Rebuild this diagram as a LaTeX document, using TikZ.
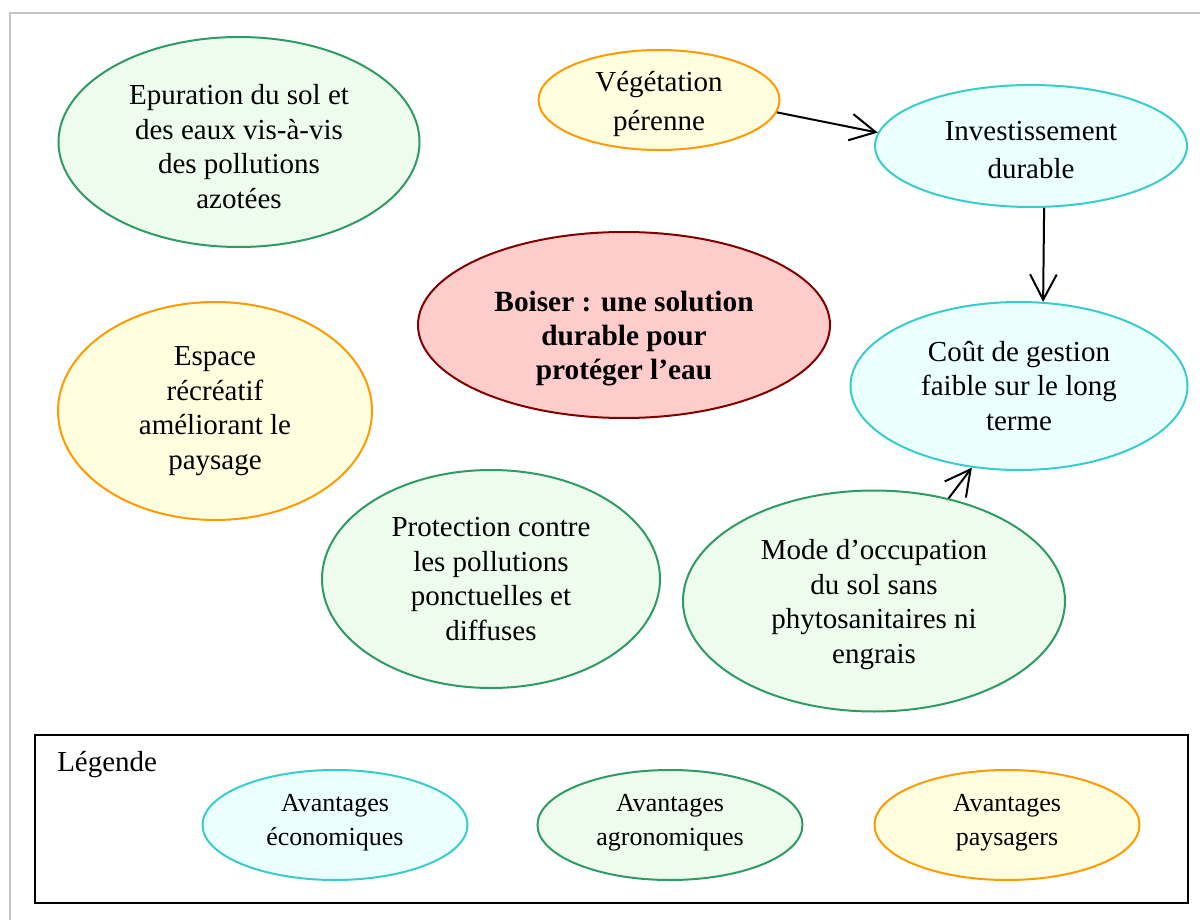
\documentclass[tikz,border=0pt]{standalone}
\usepackage{fontspec}
\setmainfont{Liberation Serif}
\usetikzlibrary{shapes.geometric,arrows.meta}
\definecolor{grnB}{HTML}{2E9B64}
\definecolor{grnF}{HTML}{EEFCEE}
\definecolor{orgB}{HTML}{FF9A00}
\definecolor{orgF}{HTML}{FFFFE0}
\definecolor{cyaB}{HTML}{38CCCC}
\definecolor{cyaF}{HTML}{EBFFFF}
\definecolor{redB}{HTML}{800000}
\definecolor{redF}{HTML}{FFCCCC}
\definecolor{frameG}{HTML}{C4C4C4}
\tikzset{
  bubble/.style={ellipse, line width=1.5pt, inner sep=0pt},
  agro/.style={bubble, draw=grnB, fill=grnF},
  pays/.style={bubble, draw=orgB, fill=orgF},
  eco/.style={bubble, draw=cyaB, fill=cyaF},
  main/.style={bubble, draw=redB, fill=redF},
  txt/.style={align=center, inner sep=0pt, font=\fontsize{21.75pt}{25.9pt}\selectfont},
  wtxt/.style={align=center, inner sep=0pt, font=\fontsize{21.75pt}{29pt}\selectfont},
  btxt/.style={align=center, inner sep=0pt, font=\fontsize{22pt}{25.5pt}\selectfont\bfseries},
  ltxt/.style={align=center, inner sep=0pt, font=\fontsize{19.5pt}{25.5pt}\selectfont},
  arr/.style={line width=1.5pt, -{Straight Barb[length=19pt,width=20pt,line width=1.5pt]}},
}
\begin{document}
\begin{tikzpicture}[x=0.75pt,y=-0.75pt]
\useasboundingbox (0,0) rectangle (1200,920);
\draw[frameG, line width=1.5pt] (10,920) -- (10,13) -- (1200,13);

\node[agro, minimum width=270.75pt, minimum height=157.5pt,
  label={[txt, yshift=-3.5pt]center:{Epuration du sol et\\des eaux vis-à-vis\\des pollutions\\azotées}}] (epur) at (239,142) {};
\node[pays, minimum width=180.75pt, minimum height=75pt,
  label={[wtxt, yshift=-3pt]center:{Végétation\\pérenne}}] (veg) at (659,100) {};
\node[eco, minimum width=234pt, minimum height=91.5pt,
  label={[wtxt, yshift=-3pt]center:{Investissement\\durable}}] (inv) at (1031,146) {};
\node[main, minimum width=309pt, minimum height=139.5pt,
  label={[btxt, yshift=-10pt]center:{Boiser : une solution\\durable pour\\protéger l’eau}}] (boiser) at (624,325) {};
\node[pays, minimum width=235.5pt, minimum height=163.5pt,
  label={[txt]center:{Espace\\récréatif\\améliorant le\\paysage}}] (espace) at (215,411) {};
\node[eco, minimum width=252.75pt, minimum height=126pt,
  label={[txt]center:{Coût de gestion\\faible sur le long\\terme}}] (cout) at (1019,386) {};
\node[agro, minimum width=253.5pt, minimum height=163.5pt,
  label={[txt]center:{Protection contre\\les pollutions\\ponctuelles et\\diffuses}}] (prot) at (491,579) {};
\node[agro, minimum width=286.5pt, minimum height=165.75pt,
  label={[txt, yshift=-2.5pt]center:{Mode d’occupation\\du sol sans\\phytosanitaires ni\\engrais}}] (mode) at (874,601) {};

\draw[arr] (veg.-6) -- (inv.175);
\draw[arr] (inv.-78) -- (cout.74);
\draw[arr] (mode.54) -- (cout.240);

% legend
\node[draw=black, line width=1.5pt, minimum width=864.75pt, minimum height=126pt, inner sep=0pt] (legbox) at (611.5,819) {};
\node[txt, anchor=west] (legt) at (57,765) {Légende};
\node[eco, minimum width=198.75pt, minimum height=82.5pt,
  label={[ltxt, yshift=2pt]center:{Avantages\\économiques}}] (leco) at (335,825) {};
\node[agro, minimum width=198.75pt, minimum height=82.5pt,
  label={[ltxt, yshift=2pt]center:{Avantages\\agronomiques}}] (lagro) at (670,825) {};
\node[pays, minimum width=198.75pt, minimum height=82.5pt,
  label={[ltxt, yshift=2pt]center:{Avantages\\paysagers}}] (lpays) at (1007,825) {};
\end{tikzpicture}
\end{document}
